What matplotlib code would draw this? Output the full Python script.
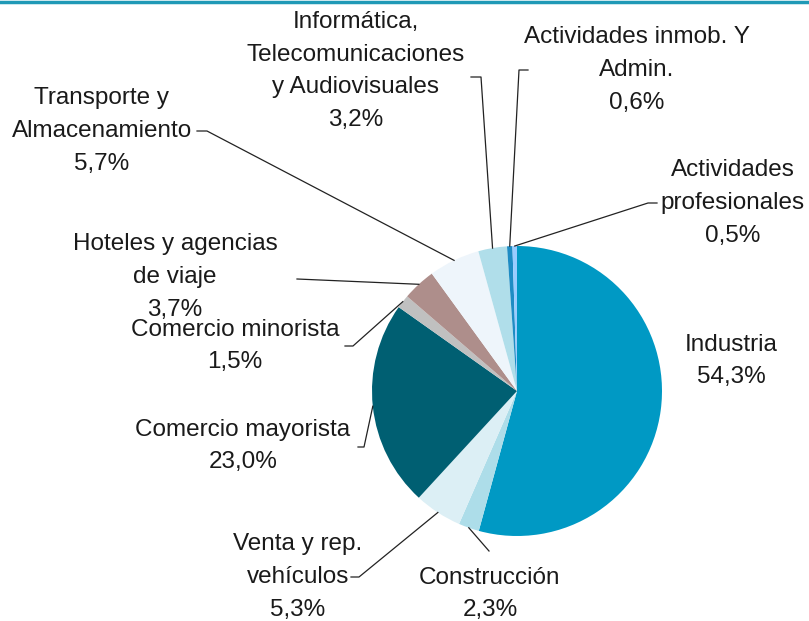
import numpy as np
import matplotlib.pyplot as plt
from matplotlib.lines import Line2D

plt.rcParams['font.family'] = ['Liberation Sans', 'DejaVu Sans']

# sectores, en el orden del gráfico (sentido horario desde arriba)
sectores = ['Industria', 'Construcción', 'Venta y rep.\nvehículos',
            'Comercio mayorista', 'Comercio minorista',
            'Hoteles y agencias\nde viaje', 'Transporte y\nAlmacenamiento',
            'Informática,\nTelecomunicaciones\ny Audiovisuales',
            'Actividades inmob. Y\nAdmin.', 'Actividades\nprofesionales']
porcentajes = [54.3, 2.3, 5.3, 23.0, 1.5, 3.7, 5.7, 3.2, 0.6, 0.5]
colores = ['#0099C4', '#ADDDE9', '#DCEFF5', '#005F72', '#C0C0C0',
           '#AE8E8B', '#EEF5FB', '#B0DEEA', '#1E8CC4', '#99CCFF']

# posición de cada etiqueta (centro del bloque, en píxeles) y extremo de la guía
pos_etiqueta = [(731, 361), (490, 594), (298, 577), (243, 446), (235, 346),
                (175, 277), (102, 131), (356, 71), (637, 70), (733, 203)]
guia = [None,
        [(489, 551), (489, 551)],
        [(351, 577), (359, 577)],
        [(358, 447), (364, 447)],
        [(345, 346), (353, 346)],
        [(297, 279), (297, 279)],
        [(197, 131), (207, 131)],
        [(471, 77), (481, 77)],
        [(528, 70), (519, 70)],
        [(657, 203), (648, 203)]]

W, H = 809, 621
fig = plt.figure(figsize=(W / 100, H / 100), dpi=100)
ax = fig.add_axes([0, 0, 1, 1])

cx, cy, r = 517, H - 391, 145
wedges, _ = ax.pie(porcentajes, colors=colores, startangle=90, counterclock=False,
                   center=(cx, cy), radius=r, frame=True,
                   wedgeprops=dict(linewidth=0))
ax.set_xlim(0, W)
ax.set_ylim(0, H)
ax.set_aspect('equal')
ax.axis('off')

for w, nombre, val, (lx, ly), g in zip(wedges, sectores, porcentajes, pos_etiqueta, guia):
    texto = nombre + '\n' + f'{val:.1f}'.replace('.', ',') + '%'
    ax.text(lx, H - ly, texto, ha='center', va='center', fontsize=17.5,
            color='#1a1a1a', linespacing=1.64)
    if g is None:
        continue
    ang = np.deg2rad((w.theta1 + w.theta2) / 2)
    ex, ey = cx + r * np.cos(ang), cy + r * np.sin(ang)
    (x0, y0), (x1, y1) = g
    ax.add_line(Line2D([x0, x1, ex], [H - y0, H - y1, ey], color='#222222', lw=0.9))

# línea superior del recuadro
ax.add_line(Line2D([0, W], [H - 2, H - 2], color='#1F99B6', lw=2.5))

fig.savefig('out.png', dpi=100)
